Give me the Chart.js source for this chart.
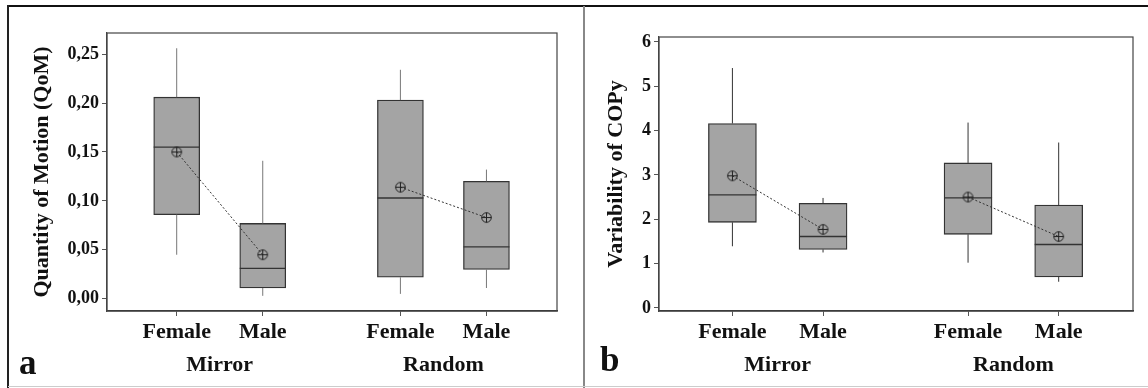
<!DOCTYPE html>
<html>
<head>
<meta charset="utf-8">
<script src="https://cdn.jsdelivr.net/npm/chart.js@4/dist/chart.umd.min.js"></script>
<style>
  body { margin: 0; background: #fff; }
  #wrap { position: relative; width: 1148px; height: 388px; overflow: hidden; background: #fff; }
  #frameTop { position: absolute; left: 8px; top: 5px; width: 1140px; height: 2px; background: #111; }
  #frameLeft { position: absolute; left: 7px; top: 5px; width: 2px; height: 383px; background: #222; }
  #frameMid { position: absolute; left: 583px; top: 6px; width: 2px; height: 382px; background: #888; }
  #frameBot { position: absolute; left: 8px; top: 386px; width: 1140px; height: 1px; background: #ccc; }
  .panel { position: absolute; top: 7px; }
  .tag { position: absolute; font: bold 35px "Liberation Serif", serif; line-height: 34px; color: #111; }
</style>
</head>
<body>
<div id="wrap">
  <div id="frameTop"></div><div id="frameLeft"></div><div id="frameMid"></div><div id="frameBot"></div>
  <canvas id="chartA" class="panel" style="left:9px" width="574" height="379"></canvas>
  <canvas id="chartB" class="panel" style="left:585px" width="563" height="379"></canvas>
  <div class="tag" style="left:19px; top:346px">a</div>
  <div class="tag" style="left:600px; top:343px">b</div>
</div>
<script>
// categorias e grupos
const categories = ['Female', 'Male', 'Female', 'Male'];
const catPos = [0, 1, 2.6, 3.6];
const groups = ['Mirror', 'Random'];
const groupPos = [0.5, 3.1];

// Painel a - Quantity of Motion (QoM)
const qomMin    = [0.045, 0.003, 0.005, 0.011];
const qomQ1     = [0.086, 0.011, 0.022, 0.030];
const qomMedian = [0.155, 0.031, 0.103, 0.053];
const qomQ3     = [0.206, 0.077, 0.203, 0.120];
const qomMax    = [0.256, 0.141, 0.234, 0.132];
const qomMean   = [0.150, 0.045, 0.114, 0.083];
const qomTicks  = [0, 0.05, 0.10, 0.15, 0.20, 0.25];

// Painel b - Variability of COPy
const copMin    = [1.39, 1.25, 1.02, 0.59];
const copQ1     = [1.93, 1.32, 1.66, 0.70];
const copMedian = [2.55, 1.61, 2.48, 1.43];
const copQ3     = [4.16, 2.36, 3.27, 2.32];
const copMax    = [5.41, 2.48, 4.18, 3.73];
const copMean   = [2.98, 1.77, 2.50, 1.61];
const copTicks  = [0, 1, 2, 3, 4, 5, 6];

const serif = '"Liberation Serif", "Times New Roman", serif';

// marcador: círculo com cruz
function meanMarker() {
    const c = document.createElement('canvas');
    c.width = 13; c.height = 13;
    const g = c.getContext('2d');
    g.strokeStyle = '#222';
    g.lineWidth = 1;
    g.beginPath(); g.arc(6.5, 6.5, 4.8, 0, Math.PI * 2); g.stroke();
    g.beginPath();
    g.moveTo(6.5, 1.5); g.lineTo(6.5, 11.5);
    g.moveTo(1.5, 6.5); g.lineTo(11.5, 6.5);
    g.stroke();
    return c;
}
const marker = meanMarker();

const boxExtras = {
    id: 'boxExtras',
    afterDatasetDraw(chart, args, opts) {
        if (args.index !== 0) return;
        const ctx = chart.ctx;
        const x = chart.scales.x, y = chart.scales.y;
        const d = opts.data;
        ctx.save();
        catPos.forEach((p, i) => {
            const px = x.getPixelForValue(p);
            // bigodes
            ctx.strokeStyle = d.whisker;
            ctx.lineWidth = 1;
            ctx.beginPath();
            ctx.moveTo(px, y.getPixelForValue(d.q3[i])); ctx.lineTo(px, y.getPixelForValue(d.max[i]));
            ctx.moveTo(px, y.getPixelForValue(d.q1[i])); ctx.lineTo(px, y.getPixelForValue(d.min[i]));
            ctx.stroke();
            // mediana
            const half = opts.half;
            const my = y.getPixelForValue(d.median[i]);
            ctx.strokeStyle = '#333';
            ctx.lineWidth = 1.3;
            ctx.beginPath();
            ctx.moveTo(px - half, my); ctx.lineTo(px + half, my);
            ctx.stroke();
        });
        ctx.restore();
    },
    afterDraw(chart) {
        const a = chart.chartArea, ctx = chart.ctx;
        ctx.save();
        ctx.strokeStyle = '#444';
        ctx.lineWidth = 1.2;
        ctx.strokeRect(a.left, a.top, a.right - a.left, a.bottom - a.top);
        ctx.restore();
    }
};

function makeChart(id, cfg) {
    const boxes = catPos.map((p, i) => ({ x: p, y: [cfg.q1[i], cfg.q3[i]] }));
    const meansFor = (a, b) => [{ x: catPos[a], y: cfg.mean[a] }, { x: catPos[b], y: cfg.mean[b] }];
    const lineDs = pts => ({
        type: 'line', data: pts, order: 0,
        borderColor: '#333', borderWidth: 1, borderDash: [2, 2],
        pointStyle: marker, pointRadius: 6, fill: false
    });
    return new Chart(document.getElementById(id), {
        type: 'bar',
        data: {
            datasets: [
                { data: boxes, order: 1, backgroundColor: '#a4a4a4', borderColor: '#333',
                  borderWidth: 1.3, borderSkipped: false, barThickness: cfg.boxW },
                lineDs(meansFor(0, 1)),
                lineDs(meansFor(2, 3))
            ]
        },
        options: {
            responsive: false,
            animation: false,
            layout: { padding: { top: cfg.padTop, right: cfg.padRight, left: 0, bottom: 0 } },
            plugins: {
                legend: { display: false },
                tooltip: { enabled: false },
                boxExtras: { data: cfg, half: cfg.boxW / 2 }
            },
            scales: {
                x: {
                    type: 'linear', min: -0.81, max: 4.42, offset: false, weight: 1,
                    grid: { offset: false, drawOnChartArea: false, drawTicks: true, tickLength: 5, color: '#555' },
                    border: { color: '#333', width: 1.5 },
                    afterBuildTicks: s => { s.ticks = catPos.map(v => ({ value: v })); },
                    afterFit: s => { s.height = 33; },
                    ticks: { color: '#111', padding: 3, font: { family: serif, size: 22, weight: 'bold' },
                             callback: (v, i) => categories[i] }
                },
                xg: {
                    type: 'linear', position: 'bottom', min: -0.81, max: 4.42, offset: false, weight: 2,
                    grid: { display: false }, border: { display: false },
                    afterBuildTicks: s => { s.ticks = groupPos.map(v => ({ value: v })); },
                    afterFit: s => { s.height = cfg.groupH; },
                    ticks: { color: '#111', padding: 0, font: { family: serif, size: 22, weight: 'bold' },
                             callback: (v, i) => groups[i] }
                },
                y: {
                    min: cfg.yMin, max: cfg.yMax,
                    grid: { drawOnChartArea: false, drawTicks: true, tickLength: 5, color: '#555' },
                    border: { color: '#444', width: 1.2 },
                    afterBuildTicks: s => { s.ticks = cfg.ticks.map(v => ({ value: v })); },
                    afterFit: s => { s.width = cfg.yW; },
                    ticks: { color: '#111', padding: 3, font: { family: serif, size: 18, weight: 'bold' },
                             callback: cfg.fmt },
                    title: { display: true, text: cfg.title, color: '#111', padding: { top: cfg.titlePad, bottom: 0 },
                             font: { family: serif, size: 22, weight: 'bold' } }
                }
            }
        },
        plugins: [boxExtras]
    });
}

makeChart('chartA', {
    min: qomMin, q1: qomQ1, median: qomMedian, q3: qomQ3, max: qomMax, mean: qomMean,
    ticks: qomTicks, yMin: -0.0125, yMax: 0.2716, title: 'Quantity of Motion (QoM)',
    fmt: v => v.toFixed(2).replace('.', ','), whisker: '#777',
    boxW: 46, yW: 98, padTop: 26, padRight: 26, groupH: 42, titlePad: 20
});

makeChart('chartB', {
    min: copMin, q1: copQ1, median: copMedian, q3: copQ3, max: copMax, mean: copMean,
    ticks: copTicks, yMin: -0.07, yMax: 6.11, title: 'Variability of COPy',
    fmt: v => String(v), whisker: '#333',
    boxW: 48, yW: 74, padTop: 30, padRight: 15, groupH: 42, titlePad: 18
});
</script>
</body>
</html>
